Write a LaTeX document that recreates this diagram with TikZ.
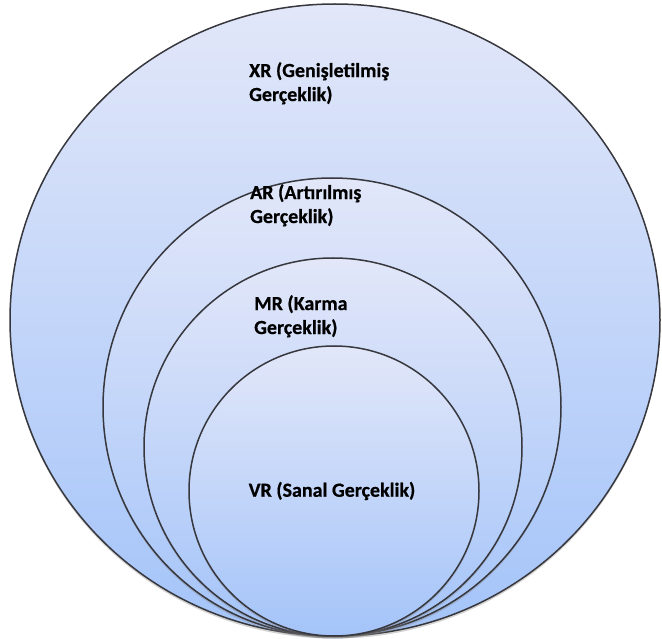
\documentclass[tikz,border=0pt]{standalone}
\usepackage{fontspec}
\setmainfont{Carlito}[BoldFont={Carlito Bold}]
\newfontfamily\lblfont{Carlito Bold}[FakeBold=0.6]
\usetikzlibrary{shadows,shadings}
\definecolor{topc}{RGB}{226,231,249}
\definecolor{botc}{RGB}{164,196,249}
\definecolor{edgec}{RGB}{55,55,62}
\begin{document}
\begin{tikzpicture}[x=1pt,y=-1pt,
  ring/.style={draw=edgec,line width=1.5pt,top color=topc,bottom color=botc,
    drop shadow={opacity=0.35,shadow xshift=0pt,shadow yshift=-2.5pt}},
  lbl/.style={font=\lblfont\fontsize{20}{24}\selectfont,align=left,anchor=north west,inner sep=0pt}]
\useasboundingbox (0,0) rectangle (662,639);
\path[ring] (335,320) ellipse [x radius=325,y radius=316];
\path[ring] (332,407) circle [radius=229];
\path[ring] (333,447) circle [radius=189];
\path[ring] (334,491) circle [radius=145];
\node[lbl] (xr) at (249,62) {XR (Genişletilmiş\\Gerçeklik)};
\node[lbl] (ar) at (250,184) {AR (Artırılmış\\Gerçeklik)};
\node[lbl] (mr) at (254,295) {MR (Karma\\Gerçeklik)};
\node[lbl,anchor=center] (vr) at (332,491) {VR (Sanal Gerçeklik)};
\end{tikzpicture}
\end{document}
